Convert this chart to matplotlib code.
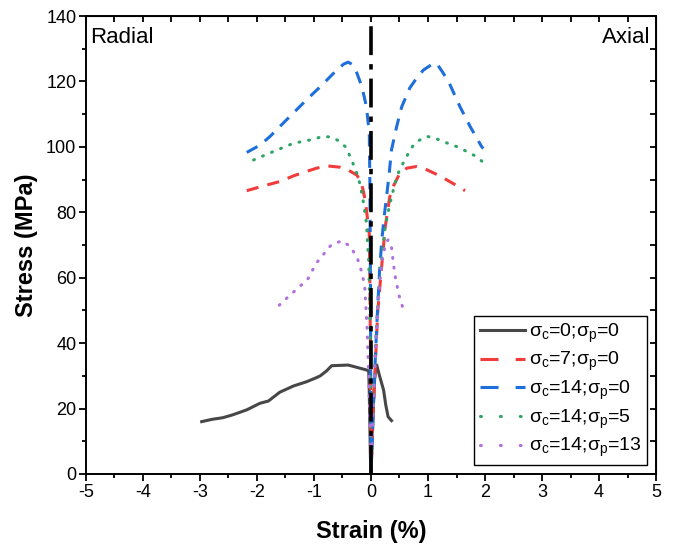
import matplotlib
matplotlib.use("Agg")
import matplotlib.pyplot as plt
from matplotlib.ticker import MultipleLocator
from matplotlib.lines import Line2D

plt.rcParams['font.family'] = ['Liberation Sans', 'DejaVu Sans']
plt.rcParams['mathtext.fontset'] = 'custom'
plt.rcParams['mathtext.rm'] = 'Liberation Sans'
plt.rcParams['mathtext.it'] = 'Liberation Sans'
plt.rcParams['mathtext.default'] = 'regular'
plt.rcParams['axes.unicode_minus'] = False

# strain (%) : radial part (negative) from end to origin, then axial part
strain_c0 = [-2.97, -2.79, -2.60, -2.44, -2.18, -1.95, -1.80, -1.60, -1.36, -1.13, -0.95, -0.89,
             -0.78, -0.69, -0.40, -0.25, -0.08, -0.04, -0.03, -0.02, -0.01, 0.0,
             0.02, 0.04, 0.06, 0.08, 0.10, 0.15, 0.22, 0.26, 0.30, 0.36]
stress_c0 = [16.0, 16.7, 17.2, 18.0, 19.6, 21.6, 22.3, 25.0, 26.9, 28.2, 29.5, 30.0,
             31.5, 33.1, 33.3, 32.6, 31.8, 31.5, 25.0, 15.0, 5.0, 0.0,
             10.0, 20.0, 28.0, 32.0, 33.3, 30.0, 25.7, 21.0, 17.5, 16.3]

strain_c7 = [-2.18, -1.90, -1.60, -1.35, -1.13, -0.95, -0.78, -0.55, -0.43, -0.25, -0.18, -0.14,
             -0.10, -0.08, -0.03, -0.02, -0.01, 0.0,
             0.04, 0.08, 0.12, 0.18, 0.25, 0.33, 0.39, 0.51, 0.63, 0.80, 0.92, 1.04, 1.20,
             1.33, 1.50, 1.65]
stress_c7 = [86.6, 88.0, 89.4, 91.2, 92.5, 93.5, 94.2, 93.8, 93.2, 91.4, 89.5, 86.9,
             83.5, 80.7, 73.6, 60.0, 40.0, 0.0,
             20.0, 35.0, 50.0, 62.0, 75.6, 84.8, 87.9, 92.1, 93.5, 94.0, 93.5, 92.5, 91.2,
             89.9, 88.2, 86.6]

strain_c14 = [-2.18, -1.95, -1.77, -1.48, -1.13, -0.89, -0.60, -0.48, -0.40, -0.33, -0.28, -0.16,
              -0.08, -0.03, -0.02, -0.01, 0.0,
              0.05, 0.10, 0.15, 0.19, 0.24, 0.28, 0.32, 0.36, 0.45, 0.54, 0.68, 0.80, 0.92,
              1.05, 1.15, 1.25, 1.36, 1.56, 1.74, 1.94, 1.97]
stress_c14 = [98.3, 100.5, 103.2, 108.3, 114.4, 118.4, 123.5, 125.3, 125.9, 125.2, 124.1, 118.4,
              112.3, 104.2, 90.0, 60.0, 0.0,
              25.0, 45.0, 62.0, 71.6, 80.0, 85.8, 92.0, 99.1, 106.2, 112.3, 118.0, 121.0, 123.5,
              125.0, 125.6, 123.0, 120.0, 112.3, 106.2, 100.1, 99.5]

strain_p5 = [-2.06, -1.71, -1.36, -1.07, -0.84, -0.70, -0.57, -0.44, -0.34, -0.25, -0.19, -0.14,
             -0.08, -0.04, -0.02, -0.01, 0.0,
             0.04, 0.08, 0.14, 0.20, 0.25, 0.32, 0.42, 0.50, 0.60, 0.70, 0.80, 0.98, 1.10,
             1.27, 1.50, 1.68, 1.85, 1.96]
stress_p5 = [96.0, 98.6, 101.1, 102.1, 103.2, 103.0, 101.9, 99.9, 96.0, 92.0, 88.4, 83.8,
             76.7, 65.0, 50.0, 30.0, 0.0,
             20.0, 40.0, 58.0, 68.0, 75.6, 81.7, 88.9, 93.0, 96.2, 99.5, 101.6, 103.2, 102.8,
             101.6, 100.1, 98.6, 97.0, 95.4]

strain_p13 = [-1.61, -1.45, -1.25, -1.10, -0.97, -0.84, -0.70, -0.51, -0.36, -0.24, -0.16, -0.11,
              -0.07, -0.04, -0.02, 0.0,
              0.03, 0.06, 0.10, 0.15, 0.20, 0.26, 0.30, 0.36, 0.39, 0.43, 0.49, 0.56]
stress_p13 = [51.6, 54.2, 57.3, 59.8, 64.2, 67.0, 70.0, 71.3, 69.5, 66.0, 61.6, 57.3,
              45.0, 30.0, 15.0, 0.0,
              15.0, 30.0, 45.0, 58.0, 66.0, 70.5, 71.6, 69.3, 64.7, 59.8, 54.7, 50.7]

labels = ['σ$_c$=0;σ$_p$=0', 'σ$_c$=7;σ$_p$=0', 'σ$_c$=14;σ$_p$=0',
          'σ$_c$=14;σ$_p$=5', 'σ$_c$=14;σ$_p$=13']
colors = ['#474747', '#F23C3C', '#1E6FDC', '#2EA564', '#B26FE0']

fig = plt.figure(figsize=(6.77, 5.47), dpi=100)
ax = fig.add_axes([0.127, 0.1335, 0.842, 0.8372])

lw = 2.2
ax.plot(strain_c0, stress_c0, color=colors[0], lw=lw)
ax.plot(strain_c7, stress_c7, color=colors[1], lw=lw, dashes=(4, 3))
ax.plot(strain_c14, stress_c14, color=colors[2], lw=lw, dashes=(4, 3))
ax.plot(strain_p5, stress_p5, color=colors[3], lw=lw, dashes=(0.3, 2.9),
        dash_capstyle='round')
ax.plot(strain_p13, stress_p13, color=colors[4], lw=lw, dashes=(0.3, 2.9),
        dash_capstyle='round')
ax.plot([0, 0], [0, 140], color='black', lw=2.6, dashes=(8, 2.5, 1.5, 2.5))

ax.set_xlim(-5, 5)
ax.set_ylim(0, 140)
ax.xaxis.set_major_locator(MultipleLocator(1))
ax.xaxis.set_minor_locator(MultipleLocator(0.5))
ax.yaxis.set_major_locator(MultipleLocator(20))
ax.yaxis.set_minor_locator(MultipleLocator(10))
ax.tick_params(which='both', direction='out', width=1.3, labelsize=13, pad=2)
ax.tick_params(which='major', length=5)
ax.tick_params(which='minor', length=3)
for s in ax.spines.values():
    s.set_linewidth(1.4)

# inward ticks on top and right
top = ax.secondary_xaxis('top')
top.xaxis.set_major_locator(MultipleLocator(0.5))
top.tick_params(direction='in', length=4, width=1.3, labeltop=False)
right = ax.secondary_yaxis('right')
right.yaxis.set_major_locator(MultipleLocator(10))
right.tick_params(direction='in', length=4, width=1.3, labelright=False)

ax.set_xlabel('Strain (%)', fontsize=17, fontweight='bold', labelpad=14)
ax.set_ylabel('Stress (MPa)', fontsize=17, fontweight='bold', labelpad=6)

ax.text(0.007, 0.976, 'Radial', transform=ax.transAxes, ha='left', va='top', fontsize=16)
ax.text(0.99, 0.976, 'Axial', transform=ax.transAxes, ha='right', va='top', fontsize=16)

handles = [
    Line2D([], [], color=colors[0], lw=lw),
    Line2D([], [], color=colors[1], lw=lw, dashes=(5.9, 5.6)),
    Line2D([], [], color=colors[2], lw=lw, dashes=(5.9, 5.6)),
    Line2D([], [], color=colors[3], lw=lw, dashes=(0.3, 6.2), dash_capstyle='round'),
    Line2D([], [], color=colors[4], lw=lw, dashes=(0.3, 6.2), dash_capstyle='round'),
]
leg = ax.legend(handles, labels, loc='lower right', fontsize=14, frameon=True, fancybox=False,
                edgecolor='black', framealpha=1, handlelength=2.3, borderpad=0.3,
                labelspacing=0.28, handletextpad=0.2, borderaxespad=0.45)
leg.get_frame().set_linewidth(1.0)

fig.savefig('out.png', dpi=100)
